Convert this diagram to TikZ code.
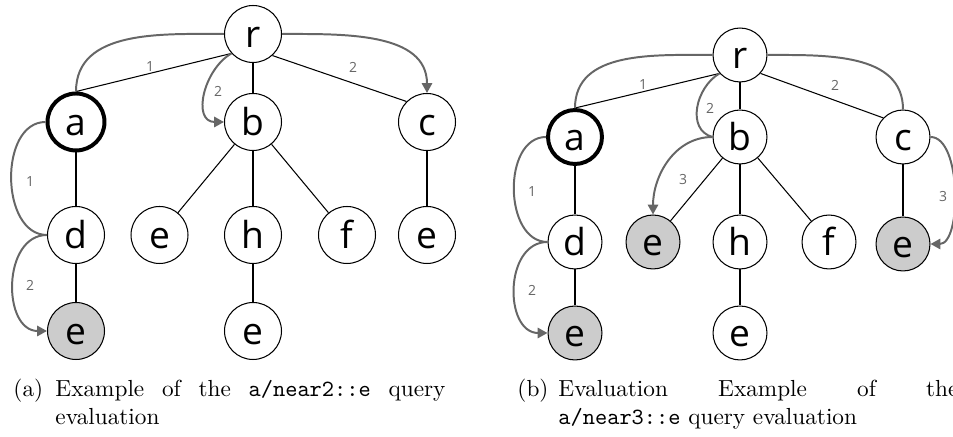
\documentclass[tikz,border=0pt]{standalone}
\usepackage{fontspec}
\newfontfamily\nodefont{Open Sans}
\usetikzlibrary{arrows.meta}
\definecolor{edgegray}{HTML}{666666}
\definecolor{fillgray}{HTML}{CCCCCC}
\begin{document}
\begin{tikzpicture}[x=0.43pt,y=-0.43pt,
  vtx/.style={circle,draw=black,line width=0.45pt,fill=white,minimum size=24.5pt,inner sep=0pt,
    text height=11.2pt,text depth=0pt,font=\nodefont\fontsize{16}{16}\selectfont},
  vtxb/.style={vtx,minimum size=23.2pt},
  hit/.style={fill=fillgray},
  cur/.style={line width=1.7pt},
  tedge/.style={draw=black,line width=0.45pt},
  hop/.style={draw=edgegray,line width=0.85pt},
  hoparr/.style={hop,-{Triangle[length=4.2pt,width=4.4pt]}},
  lbl/.style={text=edgegray,font=\nodefont\fontsize{6}{6}\selectfont,inner sep=0pt},
  captext/.style={anchor=base west,inner sep=0pt,font=\fontsize{10}{12}\selectfont},
]
\useasboundingbox (0,0) rectangle (953,437);

% ---------- (a) ----------
\node[vtx] (ra) at (253,34) {r};
\node[vtx,cur] (aa) at (76,122) {a};
\node[vtx] (ba) at (253,122) {b};
\node[vtx] (ca) at (427,122) {c};
\node[vtx] (da) at (76,235) {d};
\node[vtx] (e1a) at (159.5,235) {e};
\node[vtx] (ha) at (253,235) {h};
\node[vtx] (fa) at (347,235) {f};
\node[vtx] (e3a) at (427,235) {e};
\node[vtx,hit] (eda) at (76,331) {e};
\node[vtx] (eha) at (253,331) {e};

\draw[tedge] (ra.222) -- (aa.north);
\draw[tedge] (ra) -- (ba);
\draw[tedge] (ra.312) -- (ca.135);
\draw[tedge] (aa) -- (da);
\draw[tedge] (ba) -- (e1a);
\draw[tedge] (ba) -- (ha);
\draw[tedge] (ba) -- (fa);
\draw[tedge] (ca) -- (e3a);
\draw[tedge] (da) -- (eda);
\draw[tedge] (ha) -- (eha);

\draw[hop] (aa.north) to[out=90,in=180] (ra.west);
\draw[hoparr] (ra.east) to[out=0,in=90] (ca.north);
\draw[hoparr] (ra.222) to[out=210,in=180,looseness=1.2] (ba.west);
\draw[hop] (aa.west) to[out=180,in=180,looseness=1.06] (da.west);
\draw[hoparr] (da.west) to[out=180,in=180,looseness=1.2] (eda.west);

\node[lbl] (la1) at (150,67) {1};
\node[lbl] (la2) at (353,67) {2};
\node[lbl] (la3) at (218,91) {2};
\node[lbl] (la4) at (30,182) {1};
\node[lbl] (la5) at (30,285) {2};

% ---------- (b) ----------
\node[vtxb] (rb) at (740,55) {r};
\node[vtxb,cur] (ab) at (575,137) {a};
\node[vtxb] (bb) at (740,137) {b};
\node[vtxb] (cb) at (903,137) {c};
\node[vtxb] (db) at (575,242) {d};
\node[vtxb,hit] (e1b) at (653,242) {e};
\node[vtxb] (hb) at (740,242) {h};
\node[vtxb] (fb) at (829,242) {f};
\node[vtxb,hit] (e3b) at (903,244) {e};
\node[vtxb,hit] (edb) at (575,333) {e};
\node[vtxb] (ehb) at (740,333) {e};

\draw[tedge] (rb.222) -- (ab.north);
\draw[tedge] (rb) -- (bb);
\draw[tedge] (rb.318) -- (cb.136);
\draw[tedge] (ab) -- (db);
\draw[tedge] (bb) -- (e1b);
\draw[tedge] (bb) -- (hb);
\draw[tedge] (bb) -- (fb);
\draw[tedge] (cb) -- (e3b);
\draw[tedge] (db) -- (edb);
\draw[tedge] (hb) -- (ehb);

\draw[hop] (ab.north) to[out=90,in=180] (rb.west);
\draw[hop] (rb.east) to[out=0,in=90] (cb.north);
\draw[hop] (rb.222) to[out=210,in=165,looseness=1.1] (bb.west);
\draw[hoparr] (bb.west) to[out=180,in=90] (e1b.north);
\draw[hoparr] (cb.east) to[out=0,in=0,looseness=0.75] (e3b.east);
\draw[hop] (ab.west) to[out=180,in=180,looseness=1.07] (db.west);
\draw[hoparr] (db.west) to[out=180,in=180,looseness=1.23] (edb.west);

\node[lbl] (lb1) at (643,85) {1};
\node[lbl] (lb2) at (835,85) {2};
\node[lbl] (lb3) at (710,108) {2};
\node[lbl] (lb4) at (683,180) {3};
\node[lbl] (lb5) at (943,197) {3};
\node[lbl] (lb6) at (532,192) {1};
\node[lbl] (lb7) at (532,290) {2};

% ---------- captions ----------
\node[captext] (capa0) at (13,397) {(a)};
\node[captext] (capa1) at (55,397) {\makebox[167.7pt][s]{Example of the \texttt{a/near2::e} query}};
\node[captext] (capa2) at (55,425) {evaluation};
\node[captext] (capb0) at (517,397) {(b)};
\node[captext] (capb1) at (558,397) {\makebox[172pt][s]{Evaluation Example of the}};
\node[captext] (capb2) at (558,425) {\texttt{a/near3::e} query evaluation};
\end{tikzpicture}
\end{document}
